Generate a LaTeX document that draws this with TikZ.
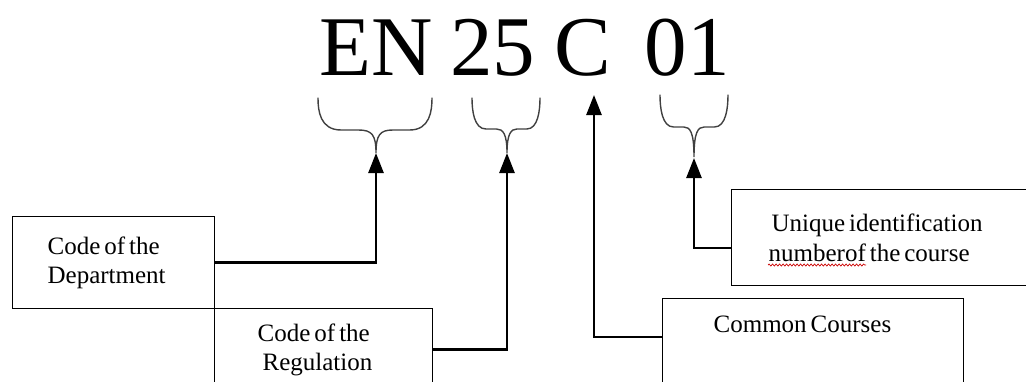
\documentclass[tikz,border=0pt]{standalone}
\usepackage{fontspec}
\setmainfont{Liberation Serif}
\usetikzlibrary{arrows.meta,decorations.pathmorphing}
\newcommand{\boxfont}{\fontsize{25}{29.5}\selectfont}
\newcommand{\tightsp}{\spaceskip=0.16em\xspaceskip=0.16em\relax}
\newcommand{\drawbrace}[6]{% L R T M C P
  \draw[bracel] (#1,#3) .. controls (#1,#4-0.6*#4+0.6*#3) and (#1+2,#4) .. (#1+0.4*#5-0.4*#1,#4)
    -- (#5-0.3*#5+0.3*#1,#4) .. controls (#5-4,#4) and (#5,#4+5) .. (#5,#6)
    .. controls (#5,#4+5) and (#5+4,#4) .. (#5+0.3*#2-0.3*#5,#4)
    -- (#2-0.4*#2+0.4*#5,#4) .. controls (#2-2,#4) and (#2,#4-0.6*#4+0.6*#3) .. (#2,#3);}
\begin{document}
\begin{tikzpicture}[x=1pt,y=-1pt,
  big/.style={font=\fontsize{85}{90}\selectfont, anchor=base, inner sep=0pt},
  box/.style={draw=black, line width=1.3pt, anchor=north west, inner xsep=0pt,
    inner ysep=0pt, align=left, fill=white, font=\boxfont},
  conn/.style={draw=black, line width=2.6pt, -{Triangle[length=20pt,width=15pt]}},
  bracel/.style={draw=black!75, line width=1.4pt, line cap=round}]
\useasboundingbox (0,0) rectangle (1026,381);
% code letters
\node[big] (en) at (376.5,75) {EN};
\node[big] (tf) at (492.5,75) {25};
\node[big] (cc) at (582.5,75) {C};
\node[big] (zo) at (687,75) {01};
% braces
\drawbrace{318}{432}{98}{130}{376}{153}
\drawbrace{472}{540}{98}{129}{507}{153}
\drawbrace{660}{728}{95}{127}{694}{157}
\coordinate (t1) at (376,153);
\coordinate (t2) at (507,153);
\coordinate (t3) at (594,95);
\coordinate (t4) at (694,158);
% boxes
\node[box, text width=202pt, minimum height=92pt] (dept) at (12,216)
  {\tightsp\hspace*{35pt}Code of the\\\hspace*{35pt}Department};
\node[box, text width=218pt, minimum height=82pt] (reg) at (214,308)
  {\tightsp\hspace*{43pt}Code of the\\\hspace*{48pt}Regulation};
\node[box, text width=301pt, text height=34pt, text depth=60pt] (common) at (662,298)
  {\tightsp\hspace*{51pt}Common Courses};
\node[box, text width=310pt, minimum height=96pt] (uniq) at (731,189)
  {\tightsp\hspace*{40pt}Unique identification\\\hspace*{37pt}numberof the course};
% connectors
\draw[conn] (dept.east) -| (t1);
\draw[conn] (reg.east) -| (t2);
\draw[conn] ([yshift=-39pt]common.north west) -| (t3);
\draw[conn] ([yshift=-59pt]uniq.north west) -| (t4);
% spell-check squiggle
\draw[red!80!black, line width=0.7pt, decorate,
  decoration={snake, amplitude=1pt, segment length=3.5pt}] (768,265) -- (866,265);
\end{tikzpicture}
\end{document}
